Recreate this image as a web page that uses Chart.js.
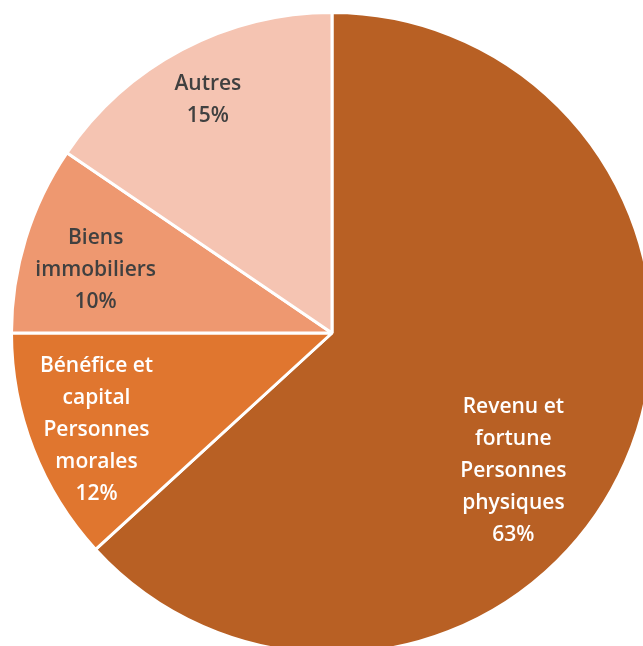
<!DOCTYPE html>
<html>
<head>
<meta charset="utf-8">
<script src="https://cdn.jsdelivr.net/npm/chart.js@4.4.1/dist/chart.umd.min.js"></script>
<style>
  html, body { margin: 0; padding: 0; background: #ffffff; overflow: hidden; width: 643px; height: 646px; }
  #wrap { position: absolute; left: 10px; top: 11px; width: 644px; height: 644px; }
</style>
</head>
<body>
<div id="wrap"><canvas id="c" width="644" height="644"></canvas></div>
<script>
// ---- data ----
const categories = [
  ["Revenu et", "fortune", "Personnes", "physiques"],
  ["Bénéfice et", "capital", "Personnes", "morales"],
  ["Biens", "immobiliers"],
  ["Autres"]
];
const shares = [63.2, 11.8, 9.5, 15.5];
const percentLabels = ["63%", "12%", "10%", "15%"];

// ---- styling / layout ----
const sliceColors = ["#B86024", "#E0762F", "#EE9870", "#F5C4B2"];
const textColors = ["#ffffff", "#ffffff", "#404040", "#404040"];
const labelRadius = [0.711, 0.795, 0.763, 0.825];  // fraction of outer radius
const labelAngleShift = [13.5, -1.2, -2.2, -0.1];  // degrees from slice mid-angle
const lineHeight = 32;

const labelPlugin = {
  id: 'sliceLabels',
  afterDatasetsDraw(chart) {
    const ctx = chart.ctx;
    const meta = chart.getDatasetMeta(0);
    ctx.save();
    ctx.font = '600 21px "Open Sans", sans-serif';
    ctx.textAlign = 'center';
    ctx.textBaseline = 'middle';
    meta.data.forEach((arc, i) => {
      const p = arc.getProps(['x', 'y', 'startAngle', 'endAngle', 'outerRadius'], true);
      const mid = (p.startAngle + p.endAngle) / 2 + labelAngleShift[i] * Math.PI / 180;
      const r = p.outerRadius * labelRadius[i];
      const cx = p.x + Math.cos(mid) * r;
      const cy = p.y + Math.sin(mid) * r;
      const lines = categories[i].concat([percentLabels[i]]);
      const top = cy - (lines.length - 1) * lineHeight / 2;
      ctx.fillStyle = textColors[i];
      lines.forEach((t, k) => ctx.fillText(t, cx, top + k * lineHeight));
    });
    ctx.restore();
  }
};

new Chart(document.getElementById('c'), {
  type: 'pie',
  data: {
    labels: categories.map(l => l.join(' ')),
    datasets: [{
      data: shares,
      backgroundColor: sliceColors,
      borderColor: '#ffffff',
      borderWidth: 3
    }]
  },
  options: {
    responsive: false,
    animation: false,
    layout: { padding: 0 },
    plugins: { legend: { display: false }, tooltip: { enabled: false } }
  },
  plugins: [labelPlugin]
});
</script>
</body>
</html>
